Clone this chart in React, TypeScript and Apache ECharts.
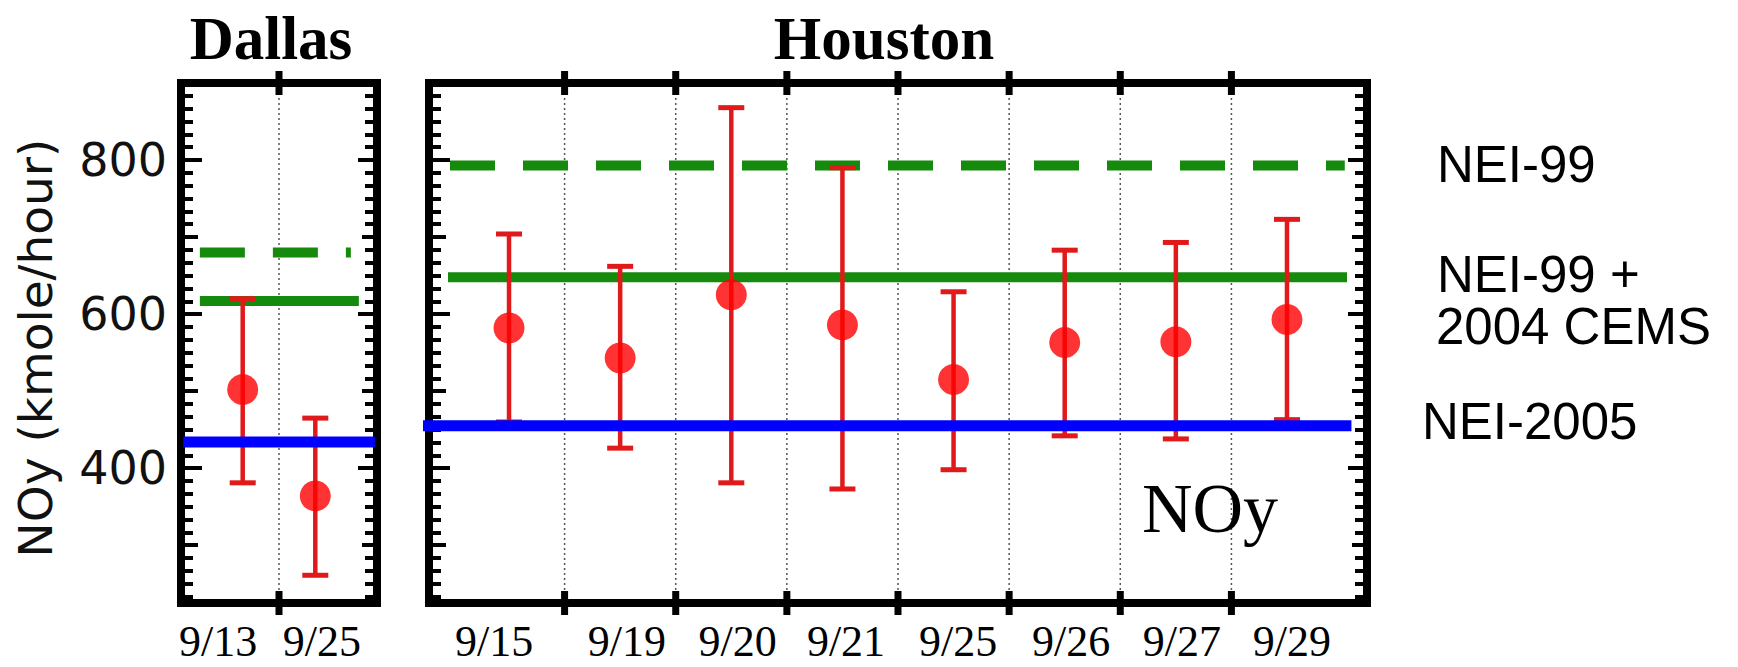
import React, { useEffect, useRef } from "react";
import * as echarts from "echarts";

// ---------- data ----------
const Y_MIN = 225;
const Y_MAX = 900;
const Y_MAJOR = [400, 600, 800];
const Y_MEDIUM = [300, 500, 700];
const Y_MINOR_STEP = 200 / 12;

const DALLAS_DATES = ["9/13", "9/25"];
const DALLAS_MEAN = [502, 364];
const DALLAS_LOW = [381, 261];
const DALLAS_HIGH = [620, 465];

const HOUSTON_DATES = ["9/15", "9/19", "9/20", "9/21", "9/25", "9/26", "9/27", "9/29"];
const HOUSTON_MEAN = [582, 543, 625, 586, 515, 563, 564, 593];
const HOUSTON_LOW = [460, 426, 381, 373, 398, 442, 438, 463];
const HOUSTON_HIGH = [704, 662, 868, 790, 629, 683, 693, 723];

// emission inventories (kmole/hour)
const DALLAS_NEI99 = 680;
const DALLAS_NEI99_CEMS = 617;
const DALLAS_NEI2005 = 434;
const HOUSTON_NEI99 = 793;
const HOUSTON_NEI99_CEMS = 648;
const HOUSTON_NEI2005 = 455;

const RIGHT_LABELS = ["NEI-99", "NEI-99 +", "2004 CEMS", "NEI-2005"];

// ---------- layout ----------
const DALLAS_X = [0.15, 2.85];
const HOUSTON_X = [0.28, 8.72];
const DALLAS_LABEL_NUDGE = [-0.34, 0.09];
const HOUSTON_LABEL_NUDGE = [-0.135, 0.06, 0.056, 0.032, 0.04, 0.057, 0.055, 0.045];

const GREEN = "#168a0c";
const BLUE = "#0000ff";
const BAR_RED = "#e01a1a";
const DOT_RED = "#ff0000";

function minorTicks(): number[] {
  const out: number[] = [];
  for (let k = -14; k <= 36; k++) {
    if (k % 6 === 0) continue;
    const v = 400 + k * Y_MINOR_STEP;
    if (v <= Y_MIN + 1 || v >= Y_MAX - 1) continue;
    out.push(Math.round(v * 1000) / 1000);
  }
  return out;
}

function yAxes(gridIndex: number, withLabels: boolean) {
  const minor = minorTicks();
  const mk = (position: string, values: number[], len: number, labels: boolean) => ({
    type: "value",
    gridIndex,
    position,
    min: Y_MIN,
    max: Y_MAX,
    axisLine: { show: false },
    splitLine: { show: false },
    axisTick: {
      show: true,
      inside: true,
      length: len,
      customValues: values,
      lineStyle: { color: "#000", width: 4 },
    },
    axisLabel: labels
      ? {
          show: true,
          customValues: Y_MAJOR,
          margin: 14,
          fontFamily: "DejaVu Sans",
          fontSize: 46,
          color: "#111",
        }
      : { show: false },
  });
  return [
    mk("left", Y_MAJOR, 21, withLabels),
    mk("left", Y_MEDIUM, 17, false),
    mk("left", minor, 12, false),
    mk("right", Y_MAJOR, 19, false),
    mk("right", Y_MEDIUM, 15, false),
    mk("right", minor, 12, false),
  ];
}

function xAxis(gridIndex: number, range: number[], dates: string[], nudge: number[]) {
  return {
    type: "value",
    gridIndex,
    position: "bottom",
    min: range[0],
    max: range[1],
    axisLine: { show: false },
    axisTick: { show: false },
    splitLine: { show: false },
    axisLabel: {
      show: true,
      customValues: dates.map((_, i) => i + 1 + nudge[i]),
      formatter: (v: number) => dates[Math.round(v) - 1] ?? "",
      margin: 16,
      fontFamily: "Liberation Serif",
      fontSize: 44,
      color: "#000",
    },
  };
}

function boundarySeries(xi: number, yi: number, dates: string[]) {
  return {
    type: "custom",
    xAxisIndex: xi,
    yAxisIndex: yi,
    z: 1,
    silent: true,
    clip: false,
    encode: { x: 0, y: [1, 2] },
    data: dates.slice(1).map((_, i) => [i + 1.5, Y_MIN, Y_MAX]),
    renderItem: (_p: any, api: any) => {
      const top = api.coord([api.value(0), api.value(2)]);
      const bot = api.coord([api.value(0), api.value(1)]);
      return {
        type: "group",
        children: [
          {
            type: "line",
            shape: { x1: top[0], y1: top[1], x2: bot[0], y2: bot[1] },
            style: { stroke: "#555", lineWidth: 1.5, lineDash: [2, 3] },
          },
          {
            type: "rect",
            shape: { x: top[0] - 3.5, y: top[1] - 12, width: 7, height: 24 },
            style: { fill: "#000" },
          },
          {
            type: "rect",
            shape: { x: bot[0] - 3.5, y: bot[1] - 12, width: 7, height: 24 },
            style: { fill: "#000" },
          },
        ],
      };
    },
  };
}

function hLine(xi: number, yi: number, v: number, x0: number, x1: number, color: string, width: number, dashed: boolean, z: number) {
  return {
    type: "line",
    xAxisIndex: xi,
    yAxisIndex: yi,
    z,
    silent: true,
    symbol: "none",
    data: [
      [x0, v],
      [x1, v],
    ],
    lineStyle: { color, width, type: dashed ? [45, 28] : "solid", cap: "butt" },
  };
}

function errorSeries(xi: number, yi: number, low: number[], high: number[]) {
  return {
    type: "custom",
    xAxisIndex: xi,
    yAxisIndex: yi,
    z: 3,
    silent: true,
    encode: { x: 0, y: [1, 2] },
    data: low.map((l, i) => [i + 1, l, high[i]]),
    renderItem: (_p: any, api: any) => {
      const x = api.value(0);
      const lo = api.coord([x, api.value(1)]);
      const hi = api.coord([x, api.value(2)]);
      const hw = 13;
      return {
        type: "group",
        children: [
          { type: "line", shape: { x1: lo[0], y1: lo[1], x2: hi[0], y2: hi[1] }, style: { stroke: BAR_RED, lineWidth: 4.5 } },
          { type: "line", shape: { x1: hi[0] - hw, y1: hi[1], x2: hi[0] + hw, y2: hi[1] }, style: { stroke: BAR_RED, lineWidth: 5 } },
          { type: "line", shape: { x1: lo[0] - hw, y1: lo[1], x2: lo[0] + hw, y2: lo[1] }, style: { stroke: BAR_RED, lineWidth: 5 } },
        ],
      };
    },
  };
}

function pointSeries(xi: number, yi: number, mean: number[]) {
  return {
    type: "scatter",
    xAxisIndex: xi,
    yAxisIndex: yi,
    z: 4,
    silent: true,
    symbol: "circle",
    symbolSize: 31,
    itemStyle: { color: DOT_RED },
    data: mean.map((m, i) => [i + 1, m]),
  };
}

export default function App() {
  const ref = useRef<HTMLDivElement>(null);

  useEffect(() => {
    document.body.style.margin = "0";
    if (!ref.current) return;
    const chart = echarts.init(ref.current, undefined, { renderer: "svg" });

    const gridBase = {
      show: true,
      borderColor: "#000",
      borderWidth: 8,
      backgroundColor: "transparent",
      containLabel: false,
      outerBoundsMode: "none",
    };

    const labelStyle = (text: string) => ({
      text,
      fontFamily: "Liberation Sans",
      fontSize: 51,
      fill: "#000",
      align: "left",
      verticalAlign: "middle",
    });

    const option: any = {
      animation: false,
      backgroundColor: "#fff",
      grid: [
        { ...gridBase, left: 181, top: 83, width: 196, height: 520 },
        { ...gridBase, left: 429, top: 83, width: 938, height: 520 },
      ],
      xAxis: [
        xAxis(0, DALLAS_X, DALLAS_DATES, DALLAS_LABEL_NUDGE),
        xAxis(1, HOUSTON_X, HOUSTON_DATES, HOUSTON_LABEL_NUDGE),
      ],
      yAxis: [...yAxes(0, true), ...yAxes(1, false)],
      series: [
        boundarySeries(0, 0, DALLAS_DATES),
        boundarySeries(1, 6, HOUSTON_DATES),
        hLine(0, 0, DALLAS_NEI99, 0.41, 2.49, GREEN, 10, true, 2),
        hLine(0, 0, DALLAS_NEI99_CEMS, 0.41, 2.6, GREEN, 10, false, 2),
        hLine(1, 6, HOUSTON_NEI99, 0.469, 8.52, GREEN, 10, true, 2),
        hLine(1, 6, HOUSTON_NEI99_CEMS, 0.451, 8.54, GREEN, 10, false, 2),
        errorSeries(0, 0, DALLAS_LOW, DALLAS_HIGH),
        errorSeries(1, 6, HOUSTON_LOW, HOUSTON_HIGH),
        pointSeries(0, 0, DALLAS_MEAN),
        pointSeries(1, 6, HOUSTON_MEAN),
        hLine(0, 0, DALLAS_NEI2005, 0.18, 2.82, BLUE, 11, false, 5),
        hLine(1, 6, HOUSTON_NEI2005, 0.15, 8.58, BLUE, 11, false, 5),
      ],
      graphic: [
        {
          type: "text",
          x: 271,
          y: 38,
          style: { text: "Dallas", fontFamily: "Liberation Serif", fontWeight: "bold", fontSize: 61, fill: "#000", align: "center", verticalAlign: "middle" },
        },
        {
          type: "text",
          x: 884,
          y: 38,
          style: { text: "Houston", fontFamily: "Liberation Serif", fontWeight: "bold", fontSize: 61, fill: "#000", align: "center", verticalAlign: "middle" },
        },
        {
          type: "text",
          x: 35,
          y: 348,
          rotation: Math.PI / 2,
          style: { text: "NOy (kmole/hour)", fontFamily: "DejaVu Sans", fontSize: 47, fill: "#111", align: "center", verticalAlign: "middle" },
        },
        {
          type: "text",
          x: 1142,
          y: 508,
          z: 10,
          style: { text: "NOy", fontFamily: "Liberation Serif", fontSize: 70, fill: "#000", align: "left", verticalAlign: "middle" },
        },
        { type: "text", x: 1437, y: 164, style: labelStyle(RIGHT_LABELS[0]) },
        { type: "text", x: 1437, y: 274, style: labelStyle(RIGHT_LABELS[1]) },
        { type: "text", x: 1436, y: 326, style: labelStyle(RIGHT_LABELS[2]) },
        { type: "text", x: 1422, y: 421, style: labelStyle(RIGHT_LABELS[3]) },
      ],
    };

    chart.setOption(option);
    return () => {
      chart.dispose();
    };
  }, []);

  return <div ref={ref} style={{ width: 1738, height: 667 }} />;
}
